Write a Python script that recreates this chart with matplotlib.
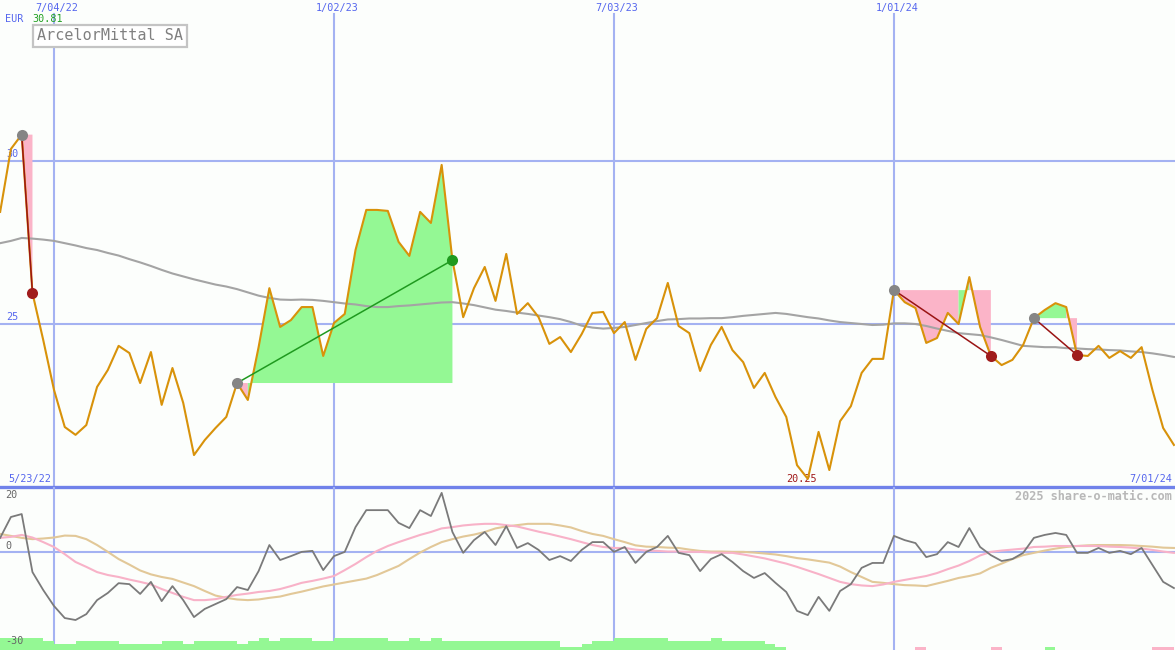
import matplotlib
matplotlib.use('Agg')
import matplotlib.pyplot as plt
import matplotlib.dates as mdates
import numpy as np
import pandas as pd
from itertools import groupby

# weekly closes, ArcelorMittal (EUR)
weeks = pd.date_range('2022-05-30', periods=110, freq='7D')
price = [
    28.44, 30.37, 30.81, 25.95, 24.51, 22.98, 21.84, 21.60, 21.90, 23.07,
    23.59, 24.33, 24.11, 23.19, 24.14, 22.52, 23.65, 22.58, 20.98, 21.44,
    21.81, 22.15, 23.19, 22.67, 24.29, 26.10, 24.91, 25.12, 25.52, 25.52,
    24.02, 25.03, 25.31, 27.27, 28.50, 28.50, 28.47, 27.52, 27.09, 28.44,
    28.10, 29.88, 26.96, 25.21, 26.10, 26.75, 25.71, 27.15, 25.31, 25.64,
    25.21, 24.39, 24.60, 24.14, 24.69, 25.34, 25.37, 24.72, 25.06, 23.90,
    24.85, 25.18, 26.26, 24.94, 24.72, 23.56, 24.36, 24.91, 24.20, 23.83,
    23.04, 23.50, 22.76, 22.15, 20.67, 20.25, 21.69, 20.52, 22.02, 22.48,
    23.50, 23.93, 23.93, 26.04, 25.67, 25.49, 24.42, 24.57, 25.34, 25.00,
    26.44, 24.91, 24.02, 23.74, 23.90, 24.36, 25.18, 25.43, 25.64, 25.52,
    24.05, 24.02, 24.33, 23.96, 24.17, 23.96, 24.29, 22.98, 21.81, 21.29,
]
# moving average (grey line)
avg = [
    27.48, 27.55, 27.64, 27.62, 27.59, 27.55, 27.48, 27.41, 27.33, 27.27,
    27.18, 27.10, 26.99, 26.89, 26.78, 26.66, 26.55, 26.46, 26.37, 26.29,
    26.21, 26.15, 26.07, 25.97, 25.87, 25.80, 25.75, 25.74, 25.75, 25.74,
    25.71, 25.67, 25.63, 25.60, 25.55, 25.52, 25.52, 25.55, 25.57, 25.60,
    25.63, 25.66, 25.67, 25.63, 25.58, 25.51, 25.44, 25.40, 25.35, 25.31,
    25.26, 25.21, 25.15, 25.06, 24.95, 24.89, 24.86, 24.88, 24.91, 24.97,
    25.03, 25.09, 25.14, 25.15, 25.17, 25.17, 25.18, 25.18, 25.21, 25.25,
    25.28, 25.31, 25.34, 25.31, 25.26, 25.21, 25.17, 25.11, 25.06, 25.03,
    25.00, 24.97, 24.98, 25.02, 25.02, 25.00, 24.94, 24.86, 24.79, 24.72,
    24.69, 24.66, 24.59, 24.51, 24.42, 24.33, 24.31, 24.29, 24.29, 24.26,
    24.25, 24.23, 24.22, 24.20, 24.19, 24.16, 24.14, 24.10, 24.05, 23.99,
]
# lower panel oscillators
osc = [
    4.4, 10.8, 11.7, -6.1, -11.6, -16.5, -20.2, -20.8, -19.0, -14.7,
    -12.5, -9.5, -9.8, -12.8, -9.1, -15.0, -10.4, -14.7, -19.9, -17.4,
    -15.9, -14.4, -10.7, -11.6, -5.8, 2.2, -2.4, -1.2, 0.1, 0.4,
    -5.5, -1.2, 0.1, 7.7, 12.9, 12.9, 12.9, 9.0, 7.4, 12.9,
    11.1, 18.2, 6.2, -0.2, 3.7, 6.2, 2.2, 8.0, 1.3, 2.8,
    0.7, -2.4, -1.2, -2.7, 0.7, 3.1, 3.1, 0.1, 1.6, -3.3,
    0.1, 1.6, 5.0, -0.2, -0.9, -5.8, -2.1, -0.6, -3.0, -5.8,
    -7.9, -6.4, -9.4, -12.2, -18.0, -19.3, -13.7, -18.0, -11.9, -9.8,
    -4.8, -3.3, -3.3, 5.0, 3.7, 2.8, -1.5, -0.6, 3.1, 1.6,
    7.4, 1.6, -0.9, -2.7, -2.1, -0.2, 4.4, 5.3, 5.9, 5.3,
    -0.2, -0.2, 1.3, -0.2, 0.4, -0.6, 1.3, -3.9, -9.1, -11.0,
]
osc_fast = [
    4.4, 4.7, 5.3, 4.5, 3.1, 1.6, -0.6, -3.0, -4.5, -6.1,
    -7.0, -7.6, -8.4, -9.1, -9.9, -11.3, -12.5, -13.7, -14.7, -14.7,
    -14.4, -13.7, -13.1, -12.7, -12.2, -11.9, -11.3, -10.4, -9.4, -8.8,
    -8.1, -7.3, -5.5, -3.6, -1.5, 0.4, 1.9, 3.1, 4.2, 5.3,
    6.2, 7.3, 7.7, 8.2, 8.5, 8.7, 8.7, 8.3, 7.9, 7.1,
    6.3, 5.6, 4.8, 4.0, 3.1, 2.2, 1.6, 1.3, 1.3, 0.8,
    0.5, 0.4, 0.2, 0.2, 0.1, 0.1, -0.1, -0.2, -0.2, -0.7,
    -1.3, -1.9, -2.7, -3.5, -4.5, -5.6, -6.7, -7.9, -9.1, -9.8,
    -10.2, -10.4, -9.9, -9.1, -8.5, -7.9, -7.3, -6.4, -5.2, -4.1,
    -2.7, -1.0, 0.1, 0.5, 0.8, 1.1, 1.6, 1.7, 1.9, 1.9,
    1.9, 1.9, 1.9, 1.7, 1.6, 1.4, 1.1, 0.7, 0.2, -0.2,
]
osc_slow = [
    5.6, 5.0, 4.4, 4.0, 4.2, 4.5, 5.1, 5.0, 4.0, 2.2,
    0.1, -2.1, -3.8, -5.6, -6.8, -7.6, -8.2, -9.3, -10.4, -11.9,
    -13.3, -14.0, -14.5, -14.7, -14.5, -14.0, -13.6, -12.8, -12.1, -11.3,
    -10.5, -9.9, -9.3, -8.7, -8.1, -7.0, -5.6, -4.2, -2.1, -0.1,
    1.6, 3.1, 4.0, 4.8, 5.4, 6.2, 7.3, 7.9, 8.3, 8.7,
    8.7, 8.7, 8.2, 7.6, 6.5, 5.6, 5.0, 4.0, 3.1, 2.1,
    1.7, 1.6, 1.4, 1.3, 0.8, 0.4, 0.2, 0.2, 0.1, 0.1,
    -0.1, -0.4, -0.7, -1.2, -1.8, -2.2, -2.7, -3.2, -4.4, -6.1,
    -7.6, -9.1, -9.4, -9.8, -10.1, -10.2, -10.4, -9.6, -8.8, -7.9,
    -7.3, -6.5, -4.8, -3.5, -2.1, -0.9, -0.2, 0.5, 1.1, 1.6,
    1.9, 2.1, 2.2, 2.2, 2.2, 2.1, 1.9, 1.7, 1.4, 1.3,
]
# trend strength blocks along the bottom (+ green, - pink)
trend = [
    4, 4, 4, 4, 3, 2, 2, 3, 3, 3,
    3, 2, 2, 2, 2, 3, 3, 2, 3, 3,
    3, 3, 2, 3, 4, 3, 4, 4, 4, 3,
    3, 4, 4, 4, 4, 4, 3, 3, 4, 3,
    4, 3, 3, 3, 3, 3, 3, 3, 3, 3,
    3, 3, 1, 1, 2, 3, 3, 4, 4, 4,
    4, 4, 3, 3, 3, 3, 4, 3, 3, 3,
    3, 2, 1, 0, 0, 0, 0, 0, 0, 0,
    0, 0, 0, 0, 0, -1, 0, 0, 0, 0,
    0, 0, -1, 0, 0, 0, 0, 1, 0, 0,
    0, 0, 0, 0, 0, 0, 0, -1, -1, 0,
]
# signals: (entry week, exit week)
trades = [(2, 3), (22, 42), (83, 92), (96, 100)]
grid_dates = ['2022-07-04', '2023-01-02', '2023-07-03', '2024-01-01']
grid_labels = ['7/04/22', '1/02/23', '7/03/23', '1/01/24']

bg = '#fcfefc'
blue = '#5566ee'
grid_blue = '#a4b2f2'
green_fill = '#94f894'
pink_fill = '#fbb4c8'
mono = 'DejaVu Sans Mono'

x = mdates.date2num(weeks)
p = np.array(price)
gx = mdates.date2num(pd.to_datetime(grid_dates))

fig = plt.figure(figsize=(11.75, 6.5), dpi=100)
fig.patch.set_facecolor(bg)
ax = fig.add_axes([0, 163 / 650, 1, 487 / 650])
ax2 = fig.add_axes([0, 0, 1, 163 / 650])
for a in (ax, ax2):
    a.set_axis_off()
    a.set_xlim(x[0] - 0.1, x[-1] + 0.7)
ax.set_ylim(20, 34.94)
ax2.set_ylim(-30, 20)

# grid
for v in (25, 30):
    ax.axhline(v, color=grid_blue, lw=1.5, zorder=1)
for g in gx:
    ax.axvline(g, ymin=0, ymax=1 - 14 / 487, color=grid_blue, lw=1.5, zorder=1)
    ax2.axvline(g, color=grid_blue, lw=1.5, zorder=1)
ax2.axhline(0, color=grid_blue, lw=1.5, zorder=1)
ax.axhline(20, color='#7082ea', lw=2.4, zorder=5, clip_on=False)

# signal fills: weekly segments coloured by where each segment ends,
# consecutive segments of one colour merged into a single polygon
for s, e in trades:
    lvl = price[s]
    seg_col = [(i, price[i + 1] >= lvl) for i in range(s, e)]
    for up, grp in groupby(seg_col, key=lambda t: t[1]):
        idx = [t[0] for t in grp]
        a, b = idx[0], idx[-1] + 1
        px = [x[a]] + list(x[a:b + 1]) + [x[b]]
        py = [lvl] + price[a:b + 1] + [lvl]
        ax.fill(px, py, color=green_fill if up else pink_fill, lw=0, zorder=2)

ax.plot(x, avg, color='#a4a4a4', lw=1.5, zorder=3)
ax.plot(x, price, color='#d8920a', lw=1.5, zorder=4)

for s, e in trades:
    win = price[e] > price[s]
    c_line = '#1f9a1f' if win else '#9a1414'
    ax.plot([x[s], x[e]], [price[s], price[e]], color=c_line, lw=1.1, zorder=6)
    ax.plot(x[s], price[s], 'o', color='#858585', ms=8, mec='none', zorder=7)
    ax.plot(x[e], price[e], 'o', color='#1f9a1f' if win else '#a01c1c', ms=8, mec='none', zorder=7)

# labels, main panel
for g, lab in zip(gx, grid_labels):
    ax.text(g + 2, 1 - 8 / 487, lab, transform=ax.get_xaxis_transform(), ha='center', va='center',
            color=blue, fontsize=7.3, family=mono)
ax.text(5 / 1175, 1 - 19 / 487, 'EUR', transform=ax.transAxes, color=blue, fontsize=7.3, family=mono, va='center')
ax.text(32 / 1175, 1 - 19 / 487, '%.2f' % max(price), transform=ax.transAxes, color='#22a022',
        fontsize=7.3, family=mono, va='center')
ax.text(37 / 1175, 1 - 36 / 487, 'ArcelorMittal SA', transform=ax.transAxes, color='#808080',
        fontsize=10.9, family=mono, va='center', zorder=8,
        bbox=dict(boxstyle='square,pad=0.24', facecolor='white', edgecolor='#c4c4c4', lw=1.6))
for v in (25, 30):
    ax.text(6 / 1175, v + 0.05, str(v), transform=ax.get_yaxis_transform(), color=blue,
            fontsize=7.3, family=mono, va='bottom')
ax.text(8 / 1175, 8 / 487, '5/23/22', transform=ax.transAxes, color=blue, fontsize=7.3, family=mono, va='center')
ax.text(1172 / 1175, 8 / 487, '7/01/24', transform=ax.transAxes, color=blue, fontsize=7.3, family=mono,
        va='center', ha='right')
lo = int(np.argmin(p))
ax.text(x[lo] - 4, 8 / 487, '%.2f' % p[lo], transform=ax.get_xaxis_transform(), color='#a01818',
        fontsize=7.3, family=mono, va='center', ha='center')

# lower panel
sign_col = [green_fill if t > 0 else pink_fill for t in trend]
ax2.bar(x, np.abs(trend) * 0.92, width=7, bottom=-30, align='edge', color=sign_col, lw=0, zorder=2)
ax2.plot(x, osc_slow, color='#e2c898', lw=1.5, zorder=3)
ax2.plot(x, osc_fast, color='#f8b2c8', lw=1.5, zorder=3)
ax2.plot(x, osc, color='#7a7a7a', lw=1.3, zorder=4)
ax2.text(5 / 1175, 1 - 8 / 163, '20', transform=ax2.transAxes, color='#666666', fontsize=7.3, family=mono, va='center')
ax2.text(5 / 1175, 0.5, '0', transform=ax2.get_yaxis_transform(), color='#666666', fontsize=7.3, family=mono,
         va='bottom')
ax2.text(5 / 1175, 9 / 163, '-30', transform=ax2.transAxes, color='#666666', fontsize=7.3, family=mono,
         va='center', zorder=5)
ax2.text(1172 / 1175, 1 - 9 / 163, '2025 share-o-matic.com', transform=ax2.transAxes, color='#b8b8b8',
         fontsize=8.6, family=mono, weight='bold', va='center', ha='right')

fig.savefig('out.png', dpi=100, facecolor=bg)
